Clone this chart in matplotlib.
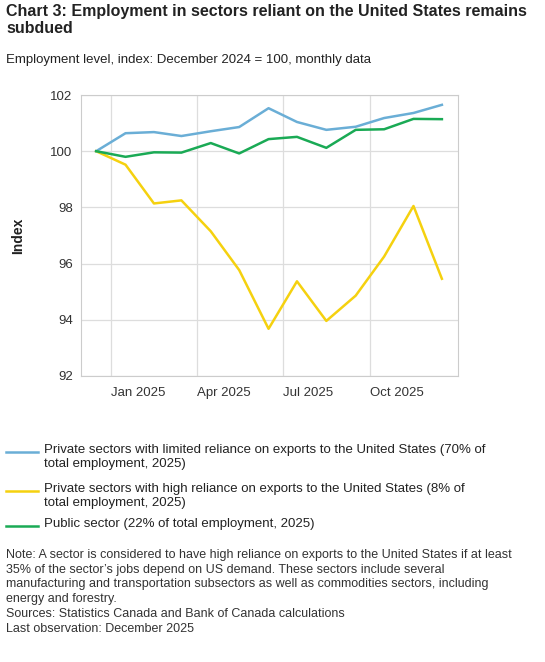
import matplotlib
matplotlib.use("Agg")
import matplotlib.pyplot as plt
import matplotlib.dates as mdates
import pandas as pd

dates = pd.to_datetime(["2024-12-16", "2025-01-16", "2025-02-15", "2025-03-16", "2025-04-16", "2025-05-16",
                        "2025-06-16", "2025-07-16", "2025-08-16", "2025-09-16", "2025-10-16", "2025-11-16", "2025-12-16"])
limited = [100, 100.64, 100.68, 100.54, 100.71, 100.86, 101.53, 101.04, 100.76, 100.87, 101.18, 101.36, 101.65]
high = [100, 99.52, 98.14, 98.25, 97.15, 95.77, 93.68, 95.37, 93.96, 94.86, 96.25, 98.05, 95.46]
public = [100, 99.80, 99.96, 99.95, 100.29, 99.92, 100.43, 100.51, 100.12, 100.76, 100.78, 101.15, 101.14]
labels = ["Private sectors with limited reliance on exports to the United States (70% of\ntotal employment, 2025)",
          "Private sectors with high reliance on exports to the United States (8% of\ntotal employment, 2025)",
          "Public sector (22% of total employment, 2025)"]
colors = ["#6aaed6", "#f5d10f", "#1aaa55"]

plt.rcParams['font.family'] = ['Liberation Sans', 'DejaVu Sans']
W, H = 545, 662
fig = plt.figure(figsize=(W/100, H/100), dpi=100)
ax = fig.add_axes([81/W, 1-376/H, (458-81)/W, (376-95)/H])
for y, c in zip([limited, high, public], colors):
    ax.plot(dates, y, color=c, lw=1.8)
ax.set_ylim(92, 102)
ax.set_yticks(range(92, 103, 2))
ax.set_xlim(pd.Timestamp("2024-11-30"), pd.Timestamp("2026-01-02"))
ax.set_xticks(pd.to_datetime(["2025-01-01", "2025-04-01", "2025-07-01", "2025-10-01"]))
ax.xaxis.set_major_formatter(mdates.DateFormatter("%b %Y"))
for lab in ax.get_xticklabels():
    lab.set_horizontalalignment("left")
ax.tick_params(axis="x", length=0, pad=8, labelsize=9.5, colors="#333333")
ax.tick_params(axis="y", length=0, pad=6, labelsize=9.5, colors="#333333")
ax.grid(True, color="#dddddd", lw=0.9)
for s in ax.spines.values():
    s.set_color("#cccccc")
ax.set_ylabel("Index", fontsize=10, fontweight="bold", color="#222222", labelpad=18)

fig.text(6/W, 1-4/H, "Chart 3: Employment in sectors reliant on the United States remains\nsubdued",
         fontsize=11.5, fontweight="bold", va="top", color="#222222", linespacing=1.15)
fig.text(6/W, 1-60/H, "Employment level, index: December 2024 = 100, monthly data", fontsize=9.5, va="center", color="#222222")

ly = [452, 491, 526]
for y0, lab, c in zip(ly, labels, colors):
    fig.add_artist(plt.Line2D([6/W, 38/W], [1-y0/H]*2, color=c, lw=1.8))
    fig.text(44/W, 1-(y0-8)/H, lab, fontsize=9.5, va="top", color="#222222", linespacing=1.2)

note = ("Note: A sector is considered to have high reliance on exports to the United States if at least\n"
        "35% of the sector\u2019s jobs depend on US demand. These sectors include several\n"
        "manufacturing and transportation subsectors as well as commodities sectors, including\n"
        "energy and forestry.\n"
        "Sources: Statistics Canada and Bank of Canada calculations\n"
        "Last observation: December 2025")
fig.text(6/W, 1-549/H, note, fontsize=9, va="top", color="#333333", linespacing=1.3)
fig.savefig("out.png", dpi=100)
